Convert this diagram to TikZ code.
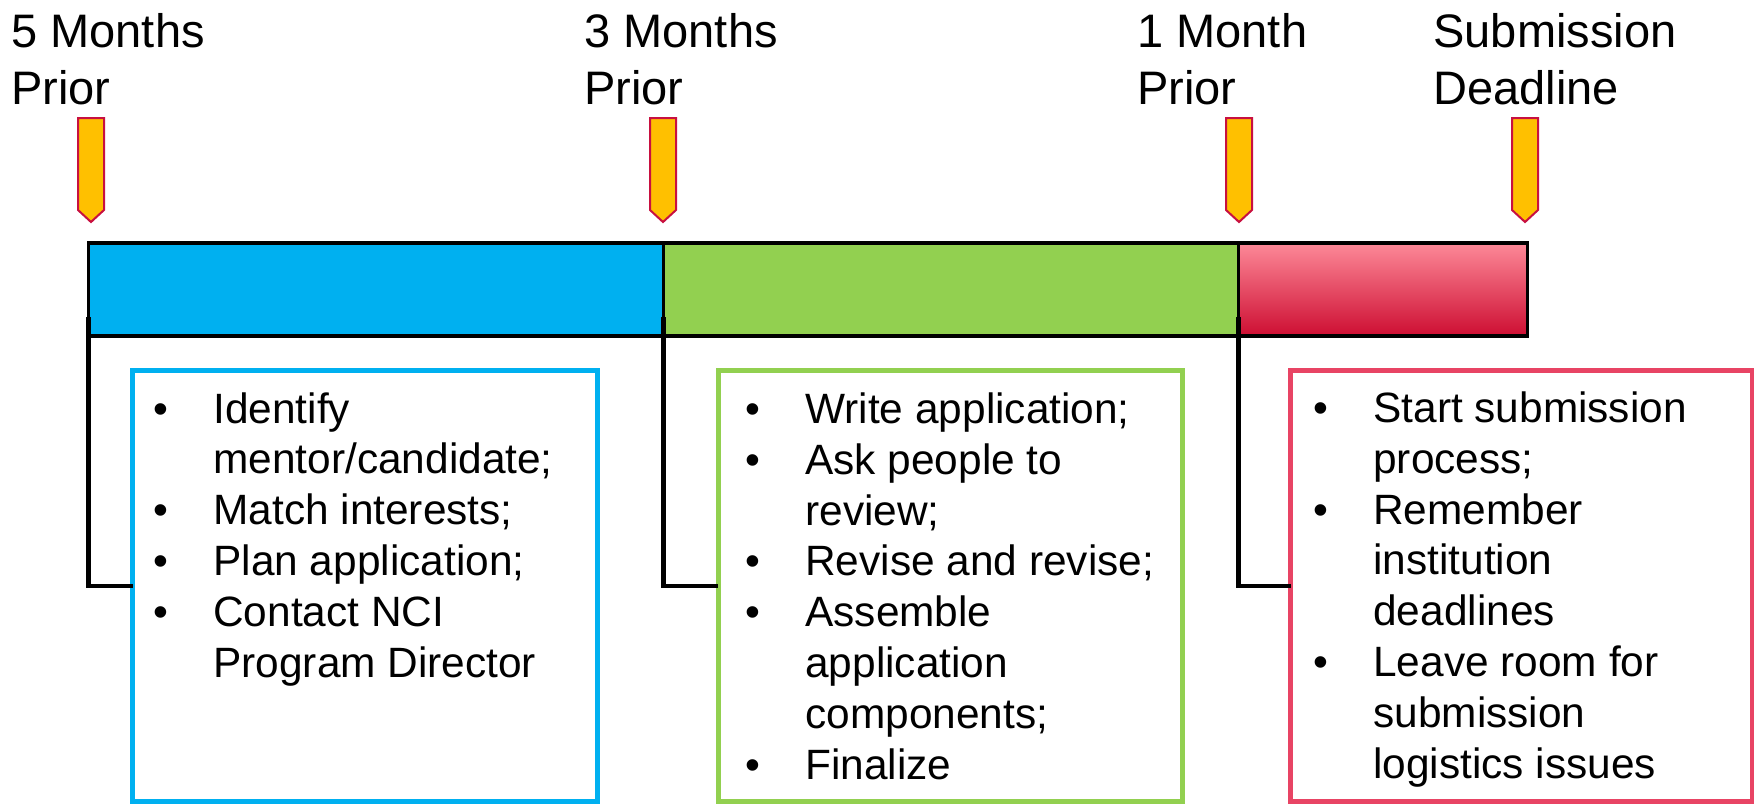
\documentclass[tikz,border=0pt]{standalone}
\usepackage{fontspec}
\setmainfont{Liberation Sans}
\usetikzlibrary{positioning}

\definecolor{tlblue}{RGB}{0,176,240}
\definecolor{tlgreen}{RGB}{146,208,80}
\definecolor{tlpink}{RGB}{253,137,152}
\definecolor{tlpinkmid}{RGB}{248,128,143}
\definecolor{tlcrimson}{RGB}{205,14,50}
\definecolor{tlrose}{RGB}{232,68,100}
\definecolor{tlgold}{RGB}{255,192,0}
\definecolor{tlmarkred}{RGB}{200,16,64}

\newcommand{\bul}{\makebox[30pt][l]{\textbullet}}
\newcommand{\cont}{\hspace*{30pt}}

\begin{document}
\begin{tikzpicture}[x=0.5pt, y=-0.5pt,
  seg/.style={draw=black, line width=1.75pt, minimum height=46.5pt, inner sep=0pt, outer sep=0pt},
  tlbox/.style={line width=2.5pt, fill=white, minimum height=215.5pt, inner sep=0pt, outer sep=0pt, anchor=north west},
  lbl/.style={font=\fontsize{23.5}{28.5}\selectfont, align=left, inner sep=0pt, anchor=base west},
  tasks/.style={font=\fontsize{21.2}{25.4}\selectfont, align=left, inner sep=0pt, anchor=base west},
  marker/.style={draw=tlmarkred, fill=tlgold, line width=1pt, line join=miter},
  conn/.style={draw=black, line width=2.25pt}]
\useasboundingbox (0,0) rectangle (1754,804);

% Time labels (base = last line)
\node[lbl] (lbl1) at (11,104) {5 Months\\Prior};
\node[lbl] (lbl2) at (584,104) {3 Months\\Prior};
\node[lbl] (lbl3) at (1137,104) {1 Month\\Prior};
\node[lbl] (lbl4) at (1433,104) {Submission\\Deadline};

% Markers
\foreach \mx in {91,663,1239,1525}
  \draw[marker] (\mx-13,118) -- (\mx+13,118) -- (\mx+13,210) -- (\mx,222) -- (\mx-13,210) -- cycle;

% Time bar
\node[seg, fill=tlblue, minimum width=287.5pt, anchor=north west] (seg1) at (88.5,243) {};
\node[seg, fill=tlgreen, minimum width=287.5pt, right=0pt of seg1] (seg2) {};
\node[seg, top color=tlpink, middle color=tlpinkmid, bottom color=tlcrimson, minimum width=144.5pt, right=0pt of seg2] (seg3) {};

% Task boxes
\node[tlbox, draw=tlblue, minimum width=232.5pt] (box1) at (132.5,370.5) {};
\node[tlbox, draw=tlgreen, minimum width=232pt] (box2) at (718,370.5) {};
\node[tlbox, draw=tlrose, minimum width=230.75pt] (box3) at (1290.5,370.5) {};

% Connectors
\draw[conn] ([yshift=9.5pt]seg1.south west) |- (box1.west);
\draw[conn] ([yshift=9.5pt]seg2.south west) |- (box2.west);
\draw[conn] ([yshift=9.5pt]seg3.south west) |- (box3.west);

% Task lists (base = last line)
\node[tasks] (list1) at (153,677) {\bul Identify\\ \cont mentor/candidate;\\ \bul Match interests;\\ \bul Plan application;\\ \bul Contact NCI\\ \cont Program Director};
\node[tasks] (list2) at (745,779) {\bul Write application;\\ \bul Ask people to\\ \cont review;\\ \bul Revise and revise;\\ \bul Assemble\\ \cont application\\ \cont components;\\ \bul Finalize};
\node[tasks] (list3) at (1313,778) {\bul Start submission\\ \cont process;\\ \bul Remember\\ \cont institution\\ \cont deadlines\\ \bul Leave room for\\ \cont submission\\ \cont logistics issues};
\end{tikzpicture}
\end{document}
